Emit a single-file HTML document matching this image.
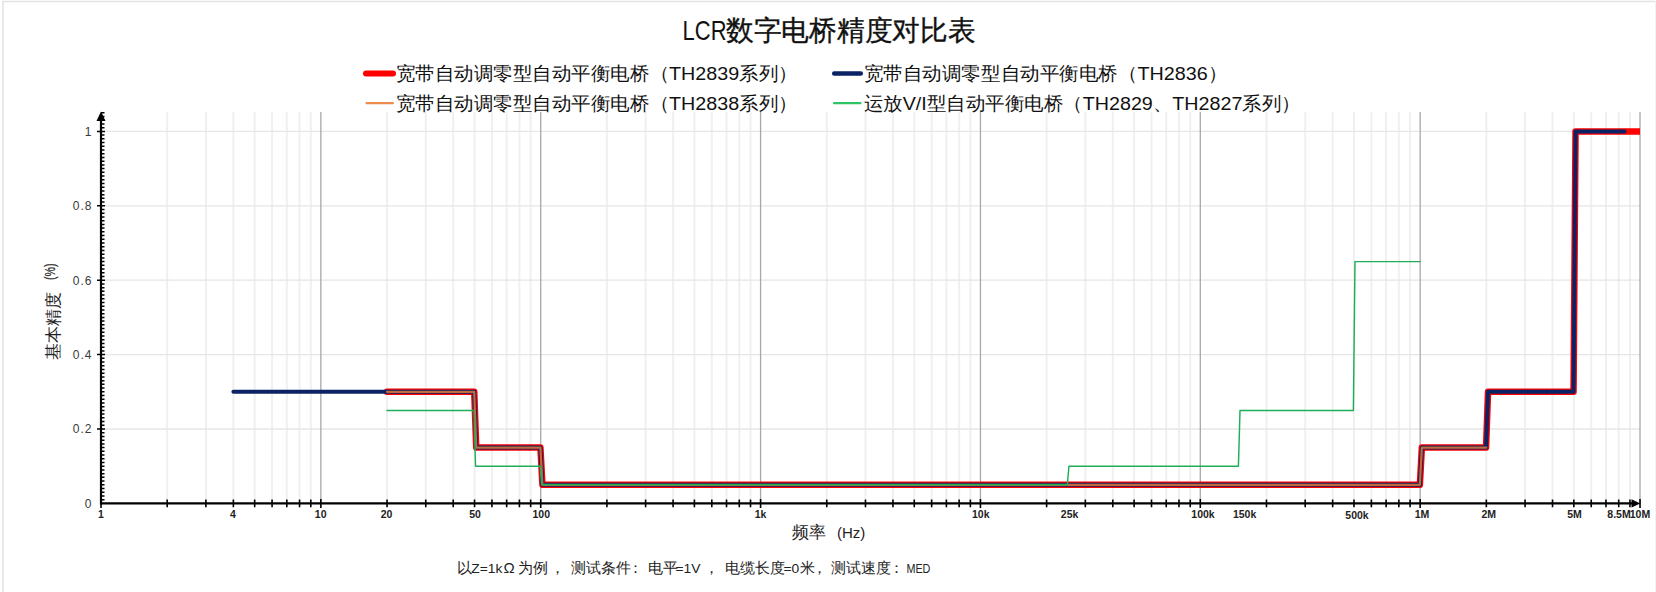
<!DOCTYPE html><html><head><meta charset="utf-8"><style>html,body{margin:0;padding:0;background:#fff;}svg{display:block;font-family:"Liberation Sans",sans-serif;}</style></head><body>
<svg width="1656" height="592" viewBox="0 0 1656 592">
<rect x="0" y="0" width="1656" height="592" fill="#fff"/>
<line x1="2.5" y1="1.5" x2="1656" y2="1.5" stroke="#e2e2e2" stroke-width="1.5"/>
<line x1="3" y1="1" x2="3" y2="592" stroke="#e2e2e2" stroke-width="1.5"/>
<line x1="1655.5" y1="1" x2="1655.5" y2="592" stroke="#f3f3f3" stroke-width="1"/>
<path d="M167.18 112.0V503.4M205.90 112.0V503.4M233.37 112.0V503.4M254.68 112.0V503.4M272.08 112.0V503.4M286.80 112.0V503.4M299.55 112.0V503.4M310.80 112.0V503.4M387.04 112.0V503.4M425.76 112.0V503.4M453.23 112.0V503.4M474.54 112.0V503.4M491.94 112.0V503.4M506.66 112.0V503.4M519.41 112.0V503.4M530.66 112.0V503.4M606.90 112.0V503.4M645.62 112.0V503.4M673.09 112.0V503.4M694.40 112.0V503.4M711.80 112.0V503.4M726.52 112.0V503.4M739.27 112.0V503.4M750.52 112.0V503.4M826.76 112.0V503.4M865.48 112.0V503.4M892.95 112.0V503.4M914.26 112.0V503.4M931.66 112.0V503.4M946.38 112.0V503.4M959.13 112.0V503.4M970.38 112.0V503.4M1046.62 112.0V503.4M1085.34 112.0V503.4M1112.81 112.0V503.4M1134.12 112.0V503.4M1151.52 112.0V503.4M1166.24 112.0V503.4M1178.99 112.0V503.4M1190.24 112.0V503.4M1266.48 112.0V503.4M1305.20 112.0V503.4M1332.67 112.0V503.4M1353.98 112.0V503.4M1371.38 112.0V503.4M1386.10 112.0V503.4M1398.85 112.0V503.4M1410.10 112.0V503.4M1486.34 112.0V503.4M1525.06 112.0V503.4M1552.53 112.0V503.4M1573.84 112.0V503.4M1591.24 112.0V503.4M1605.96 112.0V503.4M1618.71 112.0V503.4M1629.96 112.0V503.4" stroke="#f0f0f0" stroke-width="2" fill="none"/>
<path d="M102.0 429.00H1640.02M102.0 354.60H1640.02M102.0 280.20H1640.02M102.0 205.80H1640.02M102.0 131.40H1640.02" stroke="#e6e6e6" stroke-width="1.3" fill="none"/>
<path d="M320.86 112.0V503.4M540.72 112.0V503.4M760.58 112.0V503.4M980.44 112.0V503.4M1200.30 112.0V503.4M1420.16 112.0V503.4M1640.02 112.0V503.4" stroke="#a8a8a8" stroke-width="1.3" fill="none"/>
<clipPath id="pc"><rect x="0" y="100" width="1640.02" height="420"/></clipPath>
<g clip-path="url(#pc)" fill="none" stroke-linejoin="round" stroke-linecap="round">
<path d="M387.04 391.80L474.24 391.80L476.24 447.60L540.42 447.60L542.42 484.80L1419.86 484.80L1421.86 447.60L1486.04 447.60L1488.04 391.80L1573.54 391.80L1575.54 131.40L1657.43 131.40" stroke="#ff0000" stroke-width="6.5"/>
<path d="M233.37 391.80L474.24 391.80L476.24 447.60L540.42 447.60L542.42 484.80L1419.86 484.80L1421.86 447.60L1486.04 447.60L1488.04 391.80L1573.54 391.80L1575.54 131.40L1624.50 131.40" stroke="#0b2364" stroke-width="4"/>
<path d="M387.04 391.80L474.24 391.80L476.24 447.60L540.42 447.60L542.42 484.80L1419.86 484.80L1421.86 447.60L1486.34 447.60" stroke="#ed7d31" stroke-opacity="0.8" stroke-width="2.2"/>
<path d="M387.04 410.40L473.94 410.40L475.54 466.20L540.12 466.20L541.72 484.80L1067.33 484.80L1068.93 466.20L1238.42 466.20L1240.02 410.40L1353.38 410.40L1354.98 261.60L1420.16 261.60" stroke="#1caf58" stroke-width="1.45"/>
</g>
<line x1="101.0" y1="503.4" x2="1634.02" y2="503.4" stroke="#000" stroke-width="2.2"/>
<line x1="101.0" y1="504.4" x2="101.0" y2="118" stroke="#000" stroke-width="2.2"/>
<path d="M101.0 111.5L96.5 121L105.5 121Z" fill="#000"/>
<path d="M1640.32 503.4L1631.52 499.2L1631.52 507.6Z" fill="#000"/>
<path d="M101.0 499.68H104.5M101.0 495.96H104.5M101.0 492.24H104.5M101.0 488.52H104.5M101.0 484.80H104.5M101.0 481.08H104.5M101.0 477.36H104.5M101.0 473.64H104.5M101.0 469.92H104.5M101.0 466.20H104.5M101.0 462.48H104.5M101.0 458.76H104.5M101.0 455.04H104.5M101.0 451.32H104.5M101.0 447.60H104.5M101.0 443.88H104.5M101.0 440.16H104.5M101.0 436.44H104.5M101.0 432.72H104.5M97.0 429.00H105.0M101.0 425.28H104.5M101.0 421.56H104.5M101.0 417.84H104.5M101.0 414.12H104.5M101.0 410.40H104.5M101.0 406.68H104.5M101.0 402.96H104.5M101.0 399.24H104.5M101.0 395.52H104.5M101.0 391.80H104.5M101.0 388.08H104.5M101.0 384.36H104.5M101.0 380.64H104.5M101.0 376.92H104.5M101.0 373.20H104.5M101.0 369.48H104.5M101.0 365.76H104.5M101.0 362.04H104.5M101.0 358.32H104.5M97.0 354.60H105.0M101.0 350.88H104.5M101.0 347.16H104.5M101.0 343.44H104.5M101.0 339.72H104.5M101.0 336.00H104.5M101.0 332.28H104.5M101.0 328.56H104.5M101.0 324.84H104.5M101.0 321.12H104.5M101.0 317.40H104.5M101.0 313.68H104.5M101.0 309.96H104.5M101.0 306.24H104.5M101.0 302.52H104.5M101.0 298.80H104.5M101.0 295.08H104.5M101.0 291.36H104.5M101.0 287.64H104.5M101.0 283.92H104.5M97.0 280.20H105.0M101.0 276.48H104.5M101.0 272.76H104.5M101.0 269.04H104.5M101.0 265.32H104.5M101.0 261.60H104.5M101.0 257.88H104.5M101.0 254.16H104.5M101.0 250.44H104.5M101.0 246.72H104.5M101.0 243.00H104.5M101.0 239.28H104.5M101.0 235.56H104.5M101.0 231.84H104.5M101.0 228.12H104.5M101.0 224.40H104.5M101.0 220.68H104.5M101.0 216.96H104.5M101.0 213.24H104.5M101.0 209.52H104.5M97.0 205.80H105.0M101.0 202.08H104.5M101.0 198.36H104.5M101.0 194.64H104.5M101.0 190.92H104.5M101.0 187.20H104.5M101.0 183.48H104.5M101.0 179.76H104.5M101.0 176.04H104.5M101.0 172.32H104.5M101.0 168.60H104.5M101.0 164.88H104.5M101.0 161.16H104.5M101.0 157.44H104.5M101.0 153.72H104.5M101.0 150.00H104.5M101.0 146.28H104.5M101.0 142.56H104.5M101.0 138.84H104.5M101.0 135.12H104.5M97.0 131.40H105.0M101.0 127.68H104.5M101.0 123.96H104.5M101.0 120.24H104.5M101.0 116.52H104.5M101.0 112.80H104.5" stroke="#000" stroke-width="1.5" fill="none"/>
<path d="M101.00 498.9V507.9M167.18 499.6V507.2M205.90 499.6V507.2M233.37 499.6V507.2M254.68 499.6V507.2M272.08 499.6V507.2M286.80 499.6V507.2M299.55 499.6V507.2M310.80 499.6V507.2M320.86 498.9V507.9M387.04 499.6V507.2M425.76 499.6V507.2M453.23 499.6V507.2M474.54 499.6V507.2M491.94 499.6V507.2M506.66 499.6V507.2M519.41 499.6V507.2M530.66 499.6V507.2M540.72 498.9V507.9M606.90 499.6V507.2M645.62 499.6V507.2M673.09 499.6V507.2M694.40 499.6V507.2M711.80 499.6V507.2M726.52 499.6V507.2M739.27 499.6V507.2M750.52 499.6V507.2M760.58 498.9V507.9M826.76 499.6V507.2M865.48 499.6V507.2M892.95 499.6V507.2M914.26 499.6V507.2M931.66 499.6V507.2M946.38 499.6V507.2M959.13 499.6V507.2M970.38 499.6V507.2M980.44 498.9V507.9M1046.62 499.6V507.2M1085.34 499.6V507.2M1112.81 499.6V507.2M1134.12 499.6V507.2M1151.52 499.6V507.2M1166.24 499.6V507.2M1178.99 499.6V507.2M1190.24 499.6V507.2M1200.30 498.9V507.9M1266.48 499.6V507.2M1305.20 499.6V507.2M1332.67 499.6V507.2M1353.98 499.6V507.2M1371.38 499.6V507.2M1386.10 499.6V507.2M1398.85 499.6V507.2M1410.10 499.6V507.2M1420.16 498.9V507.9M1486.34 499.6V507.2M1525.06 499.6V507.2M1552.53 499.6V507.2M1573.84 499.6V507.2M1591.24 499.6V507.2M1605.96 499.6V507.2M1618.71 499.6V507.2M1629.96 499.6V507.2M1640.02 498.9V507.9" stroke="#000" stroke-width="1.6" fill="none"/>
<text x="92.5" y="507.7" text-anchor="end" font-size="12" letter-spacing="1" fill="#3a3a3a">0</text>
<text x="92.5" y="433.3" text-anchor="end" font-size="12" letter-spacing="1" fill="#3a3a3a">0.2</text>
<text x="92.5" y="358.9" text-anchor="end" font-size="12" letter-spacing="1" fill="#3a3a3a">0.4</text>
<text x="92.5" y="284.5" text-anchor="end" font-size="12" letter-spacing="1" fill="#3a3a3a">0.6</text>
<text x="92.5" y="210.1" text-anchor="end" font-size="12" letter-spacing="1" fill="#3a3a3a">0.8</text>
<text x="92.5" y="135.7" text-anchor="end" font-size="12" letter-spacing="1" fill="#3a3a3a">1</text>
<text x="101" y="517.5" text-anchor="middle" font-weight="bold" font-size="10.5" fill="#222">1</text>
<text x="233" y="517.5" text-anchor="middle" font-weight="bold" font-size="10.5" fill="#222">4</text>
<text x="320.7" y="517.5" text-anchor="middle" font-weight="bold" font-size="10.5" fill="#222">10</text>
<text x="386.5" y="517.5" text-anchor="middle" font-weight="bold" font-size="10.5" fill="#222">20</text>
<text x="475" y="517.5" text-anchor="middle" font-weight="bold" font-size="10.5" fill="#222">50</text>
<text x="541.3" y="517.5" text-anchor="middle" font-weight="bold" font-size="10.5" fill="#222">100</text>
<text x="760.5" y="517.5" text-anchor="middle" font-weight="bold" font-size="10.5" fill="#222">1k</text>
<text x="980.8" y="517.5" text-anchor="middle" font-weight="bold" font-size="10.5" fill="#222">10k</text>
<text x="1069.6" y="517.5" text-anchor="middle" font-weight="bold" font-size="10.5" fill="#222">25k</text>
<text x="1203" y="517.5" text-anchor="middle" font-weight="bold" font-size="10.5" fill="#222">100k</text>
<text x="1244.6" y="517.5" text-anchor="middle" font-weight="bold" font-size="10.5" fill="#222">150k</text>
<text x="1357" y="518.8" text-anchor="middle" font-weight="bold" font-size="10.5" fill="#222">500k</text>
<text x="1422" y="517.5" text-anchor="middle" font-weight="bold" font-size="10.5" fill="#222">1M</text>
<text x="1488.8" y="517.5" text-anchor="middle" font-weight="bold" font-size="10.5" fill="#222">2M</text>
<text x="1574.5" y="517.5" text-anchor="middle" font-weight="bold" font-size="10.5" fill="#222">5M</text>
<text x="1619" y="517.5" text-anchor="middle" font-weight="bold" font-size="10.5" fill="#222">8.5M</text>
<text x="1640" y="517.5" text-anchor="middle" font-weight="bold" font-size="10.5" fill="#222">10M</text>
<text x="682.6" y="39.5" font-size="28" fill="#111" textLength="43.9" lengthAdjust="spacingAndGlyphs">LCR</text>
<text x="726" y="39.5" font-size="28" fill="#111" stroke="#111" stroke-width="0.35" textLength="249.4" lengthAdjust="spacingAndGlyphs">数字电桥精度对比表</text>
<line x1="366.0" y1="73.5" x2="393.0" y2="73.5" stroke="#ff0000" stroke-width="6" stroke-linecap="round"/>
<text x="395.8" y="80" font-size="19.2" fill="#111" textLength="401.9" lengthAdjust="spacingAndGlyphs">宽带自动调零型自动平衡电桥（TH2839系列）</text>
<line x1="834.2" y1="73.5" x2="860.8" y2="73.5" stroke="#0b2364" stroke-width="4.5" stroke-linecap="round"/>
<text x="863.7" y="80" font-size="19.2" fill="#111" textLength="363.5" lengthAdjust="spacingAndGlyphs">宽带自动调零型自动平衡电桥（TH2836）</text>
<line x1="366.6" y1="103.2" x2="392.9" y2="103.2" stroke="#ed8d4d" stroke-width="2.2" stroke-linecap="round"/>
<text x="395.8" y="109.7" font-size="19.2" fill="#111" textLength="401.9" lengthAdjust="spacingAndGlyphs">宽带自动调零型自动平衡电桥（TH2838系列）</text>
<line x1="834.1" y1="103.2" x2="860.4" y2="103.2" stroke="#2ec466" stroke-width="2.2" stroke-linecap="round"/>
<text x="863.7" y="109.7" font-size="19.2" fill="#111" textLength="437.2" lengthAdjust="spacingAndGlyphs">运放V/I型自动平衡电桥（TH2829、TH2827系列）</text>
<text x="792" y="538" font-size="16.5" fill="#222">频率</text>
<text x="837" y="537.8" font-size="15" fill="#222">(Hz)</text>
<g transform="translate(58.5 359.5) rotate(-90)"><text x="0" y="0" font-size="17" fill="#222">基本精度</text><text x="79.5" y="-3.2" font-size="15" fill="#222" stroke="#222" stroke-width="0.25" textLength="16.5" lengthAdjust="spacingAndGlyphs">(%)</text></g>
<text y="573" font-size="15" fill="#222"><tspan x="456.8">以</tspan><tspan x="471.3" font-size="13.5" textLength="31" lengthAdjust="spacingAndGlyphs">Z=1k</tspan><tspan x="503.5">Ω</tspan><tspan x="518">为例</tspan><tspan x="550">，</tspan><tspan x="570.8">测试条件</tspan><tspan x="627.5">：</tspan><tspan x="647.8">电平</tspan><tspan x="675.4" font-size="13.5" textLength="25" lengthAdjust="spacingAndGlyphs">=1V</tspan><tspan x="704">，</tspan><tspan x="724.8">电缆长度</tspan><tspan x="783.4" font-size="13.5" textLength="15.8" lengthAdjust="spacingAndGlyphs">=0</tspan><tspan x="800.3">米</tspan><tspan x="812">，</tspan><tspan x="831.3">测试速度</tspan><tspan x="889.3">：</tspan><tspan x="906.4" font-size="13.5" textLength="24" lengthAdjust="spacingAndGlyphs">MED</tspan></text>
</svg></body></html>
